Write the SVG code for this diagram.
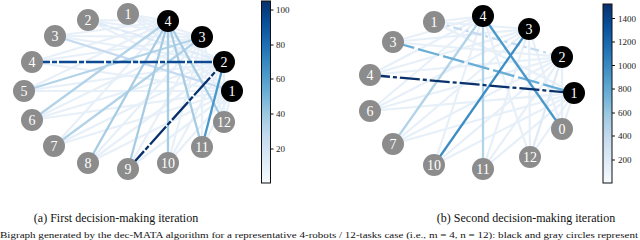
<svg xmlns="http://www.w3.org/2000/svg" width="640" height="240" viewBox="0 0 640 240" font-family="Liberation Serif, DejaVu Serif, serif">
<defs>
<linearGradient id="blues" x1="0" y1="1" x2="0" y2="0">
<stop offset="0" stop-color="#f7fbff"/>
<stop offset="0.125" stop-color="#deebf7"/>
<stop offset="0.25" stop-color="#c6dbef"/>
<stop offset="0.375" stop-color="#9ecae1"/>
<stop offset="0.5" stop-color="#6baed6"/>
<stop offset="0.625" stop-color="#4292c6"/>
<stop offset="0.75" stop-color="#2171b5"/>
<stop offset="0.875" stop-color="#08519c"/>
<stop offset="1" stop-color="#08306b"/>
</linearGradient>
<style>
.faint{stroke:#deebf7;stroke-width:2.2;opacity:0.7;fill:none}
.e{fill:none;stroke-width:2.3}
.t{fill:#8c8c8c}
.r{fill:#000}
.lbl{font-size:14px;fill:#fff;text-anchor:middle;dominant-baseline:central}
.tick{font-size:9px;fill:#222;dominant-baseline:central}
.cap{font-size:12px;fill:#111;text-anchor:middle}
.bar{stroke:#111;stroke-width:1}
</style>
</defs>
<rect width="640" height="240" fill="#fff"/>

<!-- Left panel connectors -->
<g id="connectors-a">
<g class="faint">
<path d="M232 91L128 14M232 91L88 20M232 91L55 36M232 91L32 62M232 91L24 91M232 91L32 120M232 91L54 146M232 91L88 163M232 91L128 169M232 91L168 163M232 91L202 147M232 91L224 122"/>
<path d="M224 62L128 14M224 62L88 20M224 62L55 36M224 62L24 91M224 62L32 120M224 62L54 146M224 62L88 163M224 62L168 163M224 62L224 122"/>
<path d="M202 37L128 14M202 37L88 20M202 37L55 36M202 37L32 62M202 37L32 120M202 37L88 163M202 37L128 169M202 37L168 163M202 37L202 147M202 37L224 122"/>
<path d="M168 21L128 14M168 21L88 20M168 21L55 36M168 21L32 62M168 21L24 91M168 21L54 146"/>
</g>
<path class="e" stroke="#c6dbef" d="M55 36L232 91"/>
<path class="e" stroke="#deebf7" stroke-dasharray="8,4" d="M88 20L224 62"/>
<path class="e" stroke="#b3d3e8" d="M202 37L24 91M202 37L54 146M168 21L32 120"/>
<path class="e" stroke="#a6cce4" d="M168 21L88 163M168 21L128 169M168 21L168 163M168 21L202 147M168 21L224 122"/>
<path class="e" stroke="#4a98c9" d="M224 62L202 147"/>
<path class="e" stroke="#0b4a93" stroke-dasharray="18,2,5,2" d="M32 62L224 62"/>
<path class="e" stroke="#08306b" stroke-dasharray="24,2,5,2" d="M128 169L224 62"/>
</g>

<!-- Left panel nodes -->
<g id="a-task1"><circle class="t" cx="128" cy="14" r="11"/><text class="lbl" x="128" y="14">1</text></g>
<g id="a-task2"><circle class="t" cx="88" cy="20" r="11"/><text class="lbl" x="88" y="20">2</text></g>
<g id="a-task3"><circle class="t" cx="55" cy="36" r="11"/><text class="lbl" x="55" y="36">3</text></g>
<g id="a-task4"><circle class="t" cx="32" cy="62" r="11"/><text class="lbl" x="32" y="62">4</text></g>
<g id="a-task5"><circle class="t" cx="24" cy="91" r="11"/><text class="lbl" x="24" y="91">5</text></g>
<g id="a-task6"><circle class="t" cx="32" cy="120" r="11"/><text class="lbl" x="32" y="120">6</text></g>
<g id="a-task7"><circle class="t" cx="54" cy="146" r="11"/><text class="lbl" x="54" y="146">7</text></g>
<g id="a-task8"><circle class="t" cx="88" cy="163" r="11"/><text class="lbl" x="88" y="163">8</text></g>
<g id="a-task9"><circle class="t" cx="128" cy="169" r="11"/><text class="lbl" x="128" y="169">9</text></g>
<g id="a-task10"><circle class="t" cx="168" cy="163" r="11"/><text class="lbl" x="168" y="163">10</text></g>
<g id="a-task11"><circle class="t" cx="202" cy="147" r="11"/><text class="lbl" x="202" y="147">11</text></g>
<g id="a-task12"><circle class="t" cx="224" cy="122" r="11"/><text class="lbl" x="224" y="122">12</text></g>
<g id="a-robot1"><circle class="r" cx="232" cy="91" r="11"/><text class="lbl" x="232" y="91">1</text></g>
<g id="a-robot2"><circle class="r" cx="224" cy="62" r="11"/><text class="lbl" x="224" y="62">2</text></g>
<g id="a-robot3"><circle class="r" cx="202" cy="37" r="11"/><text class="lbl" x="202" y="37">3</text></g>
<g id="a-robot4"><circle class="r" cx="168" cy="21" r="11"/><text class="lbl" x="168" y="21">4</text></g>

<!-- Left colorbar -->
<g id="colorbar-a">
<rect class="bar" x="261.5" y="1" width="9" height="182" fill="url(#blues)"/>
<path stroke="#111" stroke-width="1" d="M270.5 10H273.5M270.5 45H273.5M270.5 79H273.5M270.5 114H273.5M270.5 149H273.5"/>
<text class="tick" x="276" y="10">100</text>
<text class="tick" x="276" y="45">80</text>
<text class="tick" x="276" y="79">60</text>
<text class="tick" x="276" y="114">40</text>
<text class="tick" x="276" y="149">20</text>
</g>

<!-- Right panel connectors -->
<g id="connectors-b">
<g class="faint">
<path d="M574 93L434 22M574 93L370 111M574 93L393 144M574 93L434 165M574 93L483 169M574 93L530 157M574 93L562 129"/>
<path d="M562 57L393 42M562 57L370 75M562 57L370 111M562 57L393 144M562 57L434 165M562 57L483 169M562 57L562 129"/>
<path d="M529 29L434 22M529 29L393 42M529 29L370 75M529 29L370 111M529 29L393 144M529 29L483 169M529 29L530 157M529 29L562 129"/>
<path d="M483 16L434 22M483 16L393 42M483 16L370 75M483 16L370 111M483 16L434 165M483 16L530 157"/>
</g>
<path class="e" stroke="#deebf7" d="M562 57L530 157"/>
<path class="e" stroke="#c6dbef" stroke-dasharray="9,4,3,4" d="M434 22L562 57"/>
<path class="e" stroke="#b3d3e8" d="M483 16L393 144M483 16L483 169"/>
<path class="e" stroke="#6baed6" stroke-dasharray="22,4" d="M393 42L574 93"/>
<path class="e" stroke="#4a98c9" d="M483 16L562 129"/>
<path class="e" stroke="#3d8dc4" d="M529 29L434 165"/>
<path class="e" stroke="#08306b" stroke-dasharray="20,3,4,3" d="M370 75L574 93"/>
</g>

<!-- Right panel nodes -->
<g id="b-task1"><circle class="t" cx="434" cy="22" r="11"/><text class="lbl" x="434" y="22">1</text></g>
<g id="b-task3"><circle class="t" cx="393" cy="42" r="11"/><text class="lbl" x="393" y="42">3</text></g>
<g id="b-task4"><circle class="t" cx="370" cy="75" r="11"/><text class="lbl" x="370" y="75">4</text></g>
<g id="b-task6"><circle class="t" cx="370" cy="111" r="11"/><text class="lbl" x="370" y="111">6</text></g>
<g id="b-task7"><circle class="t" cx="393" cy="144" r="11"/><text class="lbl" x="393" y="144">7</text></g>
<g id="b-task10"><circle class="t" cx="434" cy="165" r="11"/><text class="lbl" x="434" y="165">10</text></g>
<g id="b-task11"><circle class="t" cx="483" cy="169" r="11"/><text class="lbl" x="483" y="169">11</text></g>
<g id="b-task12"><circle class="t" cx="530" cy="157" r="11"/><text class="lbl" x="530" y="157">12</text></g>
<g id="b-task0"><circle class="t" cx="562" cy="129" r="11"/><text class="lbl" x="562" y="129">0</text></g>
<g id="b-robot1"><circle class="r" cx="574" cy="93" r="11"/><text class="lbl" x="574" y="93">1</text></g>
<g id="b-robot2"><circle class="r" cx="562" cy="57" r="11"/><text class="lbl" x="562" y="57">2</text></g>
<g id="b-robot3"><circle class="r" cx="529" cy="29" r="11"/><text class="lbl" x="529" y="29">3</text></g>
<g id="b-robot4"><circle class="r" cx="483" cy="16" r="11"/><text class="lbl" x="483" y="16">4</text></g>

<!-- Right colorbar -->
<g id="colorbar-b">
<rect class="bar" x="603" y="4" width="9" height="179" fill="url(#blues)"/>
<path stroke="#111" stroke-width="1" d="M612 18.5H615M612 42H615M612 65.5H615M612 89H615M612 113H615M612 136H615M612 160H615"/>
<text class="tick" x="618" y="18.5">1400</text>
<text class="tick" x="618" y="42">1200</text>
<text class="tick" x="618" y="65.5">1000</text>
<text class="tick" x="618" y="89">800</text>
<text class="tick" x="618" y="113">600</text>
<text class="tick" x="618" y="136">400</text>
<text class="tick" x="618" y="160">200</text>
</g>

<!-- Captions -->
<text class="cap" x="116" y="222">(a) First decision-making iteration</text>
<text class="cap" x="526" y="222">(b) Second decision-making iteration</text>
<text x="0" y="237.5" font-size="7.5" fill="#111" textLength="638" lengthAdjust="spacingAndGlyphs">Bigraph generated by the dec-MATA algorithm for a representative 4-robots / 12-tasks case (i.e., m = 4, n = 12): black and gray circles represent</text>
</svg>
